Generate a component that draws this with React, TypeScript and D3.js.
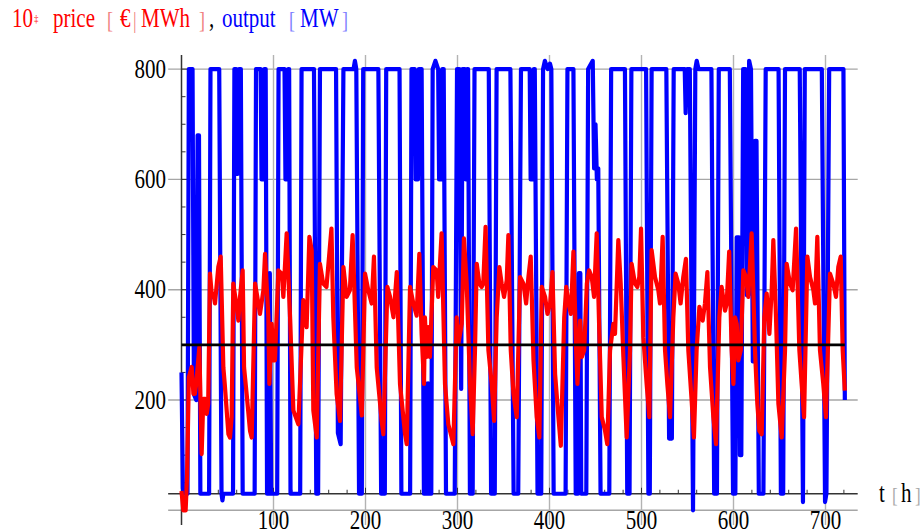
import React from "react";
import * as d3 from "d3";

// ---- data (t in hours, value) ----
const priceX10: [number, number][] = [
  [0,35],[2,0],[4.5,0],[6,60],[8,241],[11,260],[13,211],[14.5,211],[16,229],[19.4,296],[21.9,102],[23.7,202],[26,202],[27.4,175],[29,193],
  [31,429],[32.8,393],[34.6,393],[36.4,375],[40,441],[42.6,460],[45.5,259],[47,229],[51,138],[52.7,132],[54.5,169],
  [56.3,411],[60,369],[61.8,344],[63.6,387],[66.5,435],[68,259],[70.8,211],[74.5,144],[76.3,132],
  [80,411],[82.4,387],[85.3,356],[89,399],[90.8,465],[94.4,350],[95.5,229],[98,338],[99.8,272],[101.6,272],
  [105.3,435],[109,429],[110.7,387],[114.3,502],[118,350],[121.6,181],[127,156],[128.8,229],
  [132.4,381],[136,332],[139,496],[141.5,472],[143.3,181],[147,132],
  [150.5,447],[154,411],[157.6,405],[163,511],[165,350],[168.6,211],[172.3,162],
  [176,441],[179.5,387],[183,399],[186,499],[190.5,259],[194,205],[196,172],
  [199.5,429],[203,399],[206.7,375],[209.2,460],[212.2,259],[217.6,162],[219.4,138],
  [223.8,405],[226.7,387],[230.4,350],[234,432],[237.5,229],[243,138],[244.8,120],
  [248.4,405],[252,375],[255.6,353],[258.5,465],[261,320],[263.6,229],[264.6,350],[266.4,278],[268.2,332],[270,278],
  [273.7,441],[277.3,435],[279,387],[282.7,502],[286.4,229],[290,156],[293.7,132],[295.5,120],
  [299.1,350],[301,302],[304.6,338],[307,493],[310,411],[313.6,229],[316.5,138],
  [319,290],[320.9,447],[323.8,411],[326.3,405],[328,411],[330.5,514],[333.6,290],[337.2,229],[339.8,162],
  [342.6,350],[345.5,441],[348,411],[350.6,387],[353.5,417],[355.3,499],[357.9,290],[360.8,211],[364.4,169],
  [368,423],[371.7,411],[374.6,375],[377.1,423],[379.6,460],[382.6,272],[386.1,169],[389,132],
  [391.6,405],[395.2,387],[397.8,356],[400.7,375],[403.2,432],[406.1,247],[409.7,169],[412.3,117],
  [416,350],[418.2,405],[420.7,375],[423.3,356],[426,469],[429,290],[430.4,229],[433.3,344],[435.1,278],[437.7,290],
  [440.6,411],[443,435],[445.9,423],[448.4,387],[451.3,502],[454.2,320],[456.8,169],[460.4,144],[462.8,120],
  [465.8,290],[469.4,338],[471.2,320],[474.8,490],[477.4,411],[480.3,278],[483.9,132],
  [487.5,290],[489.3,447],[492.9,411],[495.5,405],[497.6,423],[499.5,511],[502,314],[505.6,229],[508.5,169],
  [511,472],[514.7,423],[518.3,399],[520.1,375],[523,496],[525.6,290],[528.1,229],[531,169],
  [534.6,350],[537.1,429],[540,411],[542.5,375],[545.4,423],[548.3,456],[550.9,290],[554.5,199],[557,132],
  [559.9,290],[562.9,369],[566.5,344],[569,375],[571.6,432],[574.5,259],[578.1,169],[581,120],
  [584.6,350],[587.1,405],[590.8,362],[592.6,375],[595.3,469],[598,290],[599.9,229],[601.7,350],[603.5,338],[605.3,272],[607.9,290],
  [610.7,435],[613.6,423],[616.1,387],[619.7,502],[623.4,290],[625.9,193],[628.1,144],[630.6,138],
  [633.5,350],[636.1,393],[639,320],[641.5,399],[643.3,490],[646.2,350],[648.8,193],[652.4,132],
  [656,290],[657.8,447],[661.4,411],[664.3,399],[668,511],[671.6,290],[674.1,229],[676.7,169],
  [680.3,460],[683.2,423],[686.8,399],[688.6,375],[691.1,496],[694,290],[697.6,229],[700.5,169],
  [704.9,429],[708.5,411],[711.4,387],[713.9,441],[716.5,460],[718.7,290],[721,217],
];

const outputMW: [number, number][] = [
  [0,250],[1.5,40],[3,30],[6.5,30],[8,800],[12,800],[13.5,210],[16,200],[17.5,680],[19,680],[20.5,30],[30,30],
  [31.5,800],[41,800],[43.5,30],[44.5,18],[45.5,30],[56,30],[57.5,800],[59.5,800],[61,610],[62.5,800],[64.5,800],[66.5,30],
  [79.5,30],[81,800],[86,800],[87,600],[89,600],[90,800],[91.5,800],[93,30],[95,30],[96,430],[97.5,30],[104,30],
  [105.5,800],[112,800],[113,600],[115,600],[116,800],[117,800],[118.5,30],[129,30],[130.5,800],[144,800],[146.5,30],[148.5,30],
  [150.5,800],[168,800],[170,140],[173,120],[176,800],[187,800],[188.5,815],[190,800],[193,30],[196,30],
  [197.5,800],[214,800],[217,30],[221,30],[222.5,800],[237,800],[239,30],[248.5,30],
  [250,800],[253.5,800],[254.5,600],[257,600],[258,800],[261,800],[263.5,30],[265,230],[266,30],[268,230],[269,30],[271.5,30],
  [273,800],[276,815],[279,800],[280,600],[282.5,600],[283.5,800],[285,800],[287.5,30],[297,30],
  [299.5,800],[302,800],[304,220],[305.5,800],[308,800],[309,600],[310.5,800],[311.5,800],[313.5,30],[316.5,30],
  [318.5,800],[334,800],[336.5,30],[340.5,30],[342.5,800],[357.5,800],[361,30],[366,30],
  [369,800],[378.5,800],[379.5,600],[382,600],[383,800],[384,800],[387,30],[391,30],
  [393,800],[395,815],[398,800],[400.5,810],[402,800],[404.5,30],[417.5,30],[419.5,800],[426,800],[428.5,30],[431,30],
  [432,430],[433.5,430],[434.5,30],[440,30],[442,800],[447,815],[448.5,620],[450,700],[451.5,600],[453,620],[455.5,30],[465,30],
  [467,800],[482,800],[484.5,30],[487,30],[489,800],[505,800],[507.5,30],[509,30],[511,800],[527,800],[530,130],[533,130],
  [535,800],[547,800],[548,720],[549.5,800],[552.5,800],[556,0],[558.5,800],[560,815],[562,800],[576,800],[579,30],[582,30],
  [584,800],[596,800],[599.5,30],[602,30],[603.5,495],[606,495],[607,100],[608.5,100],[610.5,800],[613,800],[614.5,390],[616,390],
  [617,815],[619,800],[621,270],[622.5,270],[623.5,670],[625,670],[627.5,30],[632.5,30],[635,800],[649,800],[651.5,30],[654,30],
  [656,800],[672,800],[675.5,15],[677.5,800],[680,800],[696,800],[699.5,15],[701,30],[704,800],[719.5,800],[721,200],
];

const referenceLevel = 300;
const yGrid = [0, 200, 400, 600, 800];
const yTickLabels = [200, 400, 600, 800];
const xGrid = [100, 200, 300, 400, 500, 600, 700];
const xTickLabels = [100, 200, 300, 400, 500, 600, 700];

const W = 920, H = 530;
const FONT = "Liberation Serif, DejaVu Serif, serif";
const SY = 1.25;

export default function App() {
  const x = d3.scaleLinear().domain([0, 720]).range([181.5, 181.5 + 0.92 * 720]);
  const y = d3.scaleLinear().domain([0, 800]).range([510.3, 69.1]);
  const xL = x(-14.5), xR = x(735);
  const yT = 55, yB = 525;
  const axisY = y(30);
  const line = d3.line<[number, number]>().x(d => x(d[0])).y(d => y(d[1]));

  const yMinor = d3.range(50, 801, 50);
  const xMinor = d3.range(20, 721, 20);

  const T = (props: any) => {
    const { x: tx, y: ty, children, size = 21, ...rest } = props;
    return (
      <text transform={`translate(${tx},${ty}) scale(1,${SY})`} style={{ fontFamily: FONT }} fontSize={size} {...rest}>
        {children}
      </text>
    );
  };

  return (
    <svg width={W} height={H} style={{ position: "absolute", left: 0, top: 0, background: "#fff" }}>
      <rect width={W} height={H} fill="#fff" />
      {yGrid.map(v => (
        <line key={"gy" + v} x1={xL} x2={xR} y1={y(v)} y2={y(v)} stroke="#a6a6a6" strokeWidth={1.4} />
      ))}
      {xGrid.map(v => (
        <line key={"gx" + v} x1={x(v)} x2={x(v)} y1={yT} y2={yB} stroke="#b3b3b3" strokeWidth={1.4} />
      ))}
      <line x1={x(0)} x2={x(0)} y1={yT} y2={yB} stroke="#333" strokeWidth={1.5} />
      <line x1={xL} x2={xR} y1={axisY} y2={axisY} stroke="#333" strokeWidth={1.5} />
      {yMinor.map(v => (
        <line key={"ty" + v} x1={x(0)} x2={x(0) + (v % 200 === 0 ? 6 : 4)} y1={y(v)} y2={y(v)} stroke="#333" strokeWidth={1} />
      ))}
      {xMinor.map(v => (
        <line key={"tx" + v} x1={x(v)} x2={x(v)} y1={axisY} y2={axisY - (v % 100 === 0 ? 6 : 4)} stroke="#333" strokeWidth={1} />
      ))}
      <path d={line(outputMW) || ""} fill="none" stroke="#0000ff" strokeWidth={4.2} strokeLinejoin="round" />
      <path d={line(priceX10) || ""} fill="none" stroke="#ff0000" strokeWidth={4.2} strokeLinejoin="round" />
      <line x1={x(0)} x2={x(721)} y1={y(referenceLevel)} y2={y(referenceLevel)} stroke="#000" strokeWidth={2.6} />
      {yTickLabels.map(v => (
        <T key={"ly" + v} x={166} y={y(v) + 8.6} textAnchor="end" fill="#000">{v}</T>
      ))}
      {xTickLabels.map(v => (
        <T key={"lx" + v} x={x(v)} y={528.5} textAnchor="middle" fill="#000">{v}</T>
      ))}
      <T x={879} y={501.5} fill="#000">t</T>
      <T x={892} y={502} fill="#aaa" size={17}>[</T>
      <T x={901} y={501.5} fill="#000">h</T>
      <T x={915} y={502} fill="#aaa" size={17}>]</T>
      <T x={12} y={27.3} fill="#ff0000">10</T>
      <T x={34} y={22} fill="#ff0000" size={9}>‡</T>
      <T x={53} y={27.3} fill="#ff0000">price</T>
      <T x={107} y={28} fill="#f08080" size={18}>[</T>
      <T x={120} y={27.3} fill="#ff0000">€</T>
      <T x={133} y={28} fill="#f08080" size={18}>|</T>
      <T x={141} y={27.3} fill="#ff0000">MWh</T>
      <T x={199} y={28} fill="#f08080" size={18}>]</T>
      <T x={209} y={27.3} fill="#000">,</T>
      <T x={222} y={27.3} fill="#0000ff">output</T>
      <T x={289} y={28} fill="#8080ff" size={18}>[</T>
      <T x={300} y={27.3} fill="#0000ff">MW</T>
      <T x={342} y={28} fill="#8080ff" size={18}>]</T>
    </svg>
  );
}
